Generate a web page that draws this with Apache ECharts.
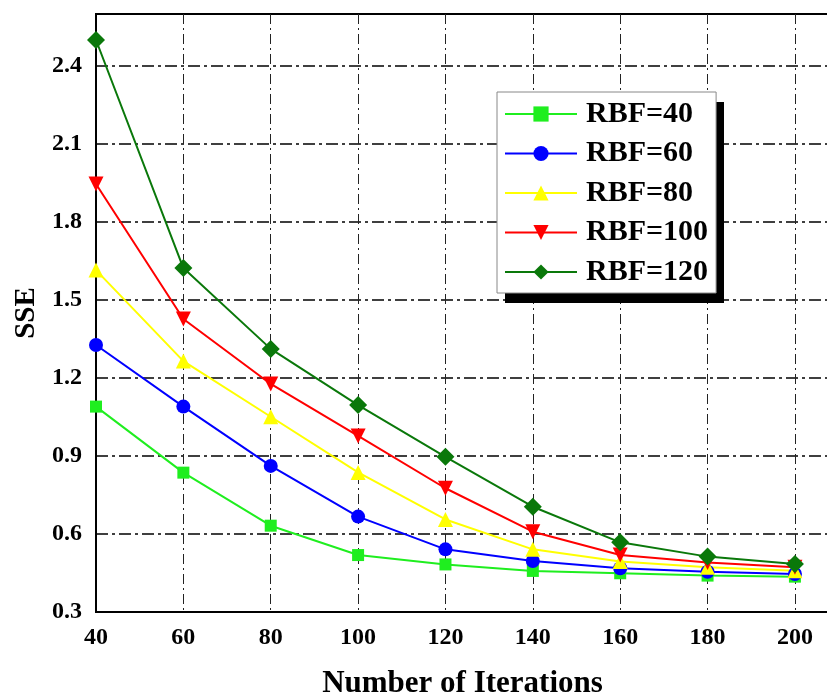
<!DOCTYPE html>
<html>
<head>
<meta charset="utf-8">
<script src="https://cdn.jsdelivr.net/npm/echarts@6/dist/echarts.min.js"></script>
<style>
html,body{margin:0;padding:0;background:#fff;}
#c{width:827px;height:695px;}
</style>
</head>
<body>
<div id="c"></div>
<script>
const iterations = [40, 60, 80, 100, 120, 140, 160, 180, 200];
const seriesNames = ['RBF=40', 'RBF=60', 'RBF=80', 'RBF=100', 'RBF=120'];
const rbf40  = [1.09, 0.836, 0.632, 0.519, 0.483, 0.458, 0.449, 0.440, 0.436];
const rbf60  = [1.327, 1.09, 0.862, 0.667, 0.541, 0.496, 0.468, 0.455, 0.446];
const rbf80  = [1.615, 1.265, 1.051, 0.837, 0.656, 0.541, 0.494, 0.472, 0.459];
const rbf100 = [1.946, 1.427, 1.177, 0.977, 0.776, 0.609, 0.519, 0.490, 0.472];
const rbf120 = [2.50, 1.623, 1.312, 1.096, 0.897, 0.705, 0.568, 0.513, 0.485];
const yTicks = [0.3, 0.6, 0.9, 1.2, 1.5, 1.8, 2.1, 2.4];
const xTicks = [40, 60, 80, 100, 120, 140, 160, 180, 200];

const allValues = [rbf40, rbf60, rbf80, rbf100, rbf120];
const colors = ['#1fee1f', '#0000ff', '#ffff00', '#ff0000', '#0a780a'];
const symbols = ['rect', 'circle', 'triangle', 'triangle', 'diamond'];
const symbolSizes = [12, 14, 15, 15, 18];
const symbolRotates = [0, 0, 0, 180, 0];

const font = "'Liberation Serif', 'Times New Roman', serif";

const series = seriesNames.map((name, i) => ({
  name: name,
  type: 'line',
  data: iterations.map((x, j) => [x, allValues[i][j]]),
  symbol: symbols[i],
  symbolSize: symbolSizes[i],
  symbolRotate: symbolRotates[i],
  showAllSymbol: true,
  lineStyle: { color: colors[i], width: 2 },
  itemStyle: { color: colors[i] },
  emphasis: { disabled: true },
  animation: false
}));

const chart = echarts.init(document.getElementById('c'));
chart.setOption({
  animation: false,
  backgroundColor: '#fff',
  grid: {
    left: 96, top: 14, right: -2, bottom: 83,
    containLabel: false,
    outerBoundsMode: 'none',
    show: true, borderColor: '#000', borderWidth: 2, backgroundColor: 'transparent'
  },
  graphic: [{
    type: 'rect', z: 3, silent: true,
    shape: { x: 505, y: 102, width: 219, height: 201 },
    style: { fill: '#000' }
  }],
  legend: {
    orient: 'vertical',
    left: 497, top: 92, z: 5,
    data: seriesNames,
    itemWidth: 72, itemHeight: 19, itemGap: 9.5,
    padding: [7, 8, 6, 7],
    backgroundColor: '#fff',
    borderColor: '#888', borderWidth: 1, borderRadius: 0,
    textStyle: { fontFamily: font, fontWeight: 'bold', fontSize: 30, color: '#000', lineHeight: 30, padding: [0, 0, 0, 4] },
    selectedMode: false
  },
  xAxis: {
    type: 'value',
    min: 40, max: 207.8, interval: 20,
    name: 'Number of Iterations',
    nameLocation: 'middle',
    nameGap: 56,
    nameTextStyle: { fontFamily: font, fontWeight: 'bold', fontSize: 31, color: '#000' },
    axisLine: { show: true, lineStyle: { color: '#000', width: 2 } },
    axisTick: { show: false },
    axisLabel: {
      fontFamily: font, fontWeight: 'bold', fontSize: 24, color: '#000', margin: 14,
      showMaxLabel: false,
      formatter: v => (xTicks.indexOf(Math.round(v)) >= 0 && Math.abs(v - Math.round(v)) < 1e-6) ? String(Math.round(v)) : ''
    },
    splitLine: { show: true, lineStyle: { color: '#222', width: 1, type: [10, 4, 2, 4] } }
  },
  yAxis: {
    type: 'value',
    min: 0.3, max: 2.6, interval: 0.3,
    name: 'SSE',
    nameLocation: 'middle',
    nameGap: 52,
    nameTextStyle: { fontFamily: font, fontWeight: 'bold', fontSize: 29, color: '#000' },
    axisLine: { show: true, lineStyle: { color: '#000', width: 2 } },
    axisTick: { show: false },
    axisLabel: {
      fontFamily: font, fontWeight: 'bold', fontSize: 24, color: '#000', margin: 14,
      showMaxLabel: false,
      formatter: v => {
        const r = Math.round(v * 10) / 10;
        return yTicks.some(t => Math.abs(t - v) < 1e-6) ? r.toFixed(1) : '';
      }
    },
    splitLine: { show: true, lineStyle: { color: '#000', width: 1.5, type: [12, 4, 3, 4] } }
  },
  series: series
});
</script>
</body>
</html>
